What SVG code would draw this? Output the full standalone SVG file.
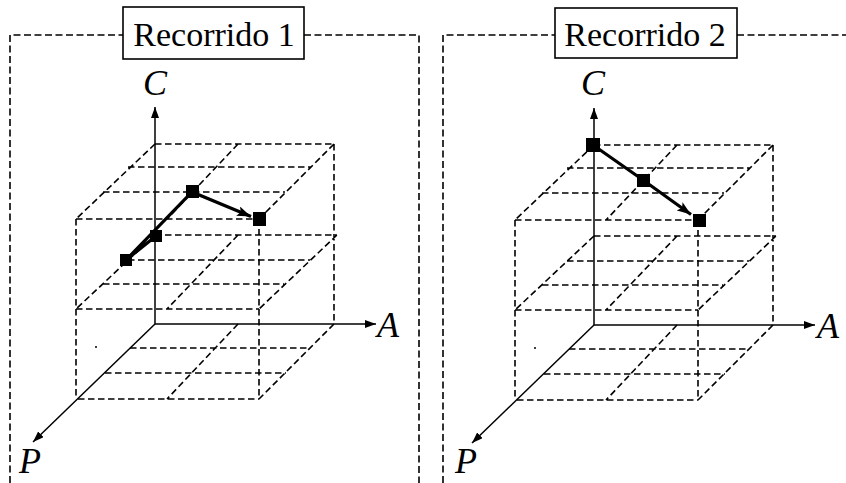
<svg xmlns="http://www.w3.org/2000/svg" xmlns:xlink="http://www.w3.org/1999/xlink" width="846" height="483" viewBox="0 0 846 483">
<style>
.frame{fill:none;stroke:#000;stroke-width:1.6;stroke-dasharray:7 3.5}
.grid{fill:none;stroke:#000;stroke-width:1.6;stroke-dasharray:6.5 3.5}
.axis{fill:none;stroke:#000;stroke-width:1.5}
.route{fill:none;stroke:#000;stroke-width:3.2;stroke-linejoin:miter}
.title{fill:#fff;stroke:#000;stroke-width:1.6}
.ttext{font-family:"Liberation Serif","DejaVu Serif","Times New Roman",serif;font-size:34px;fill:#000}
.lbl{font-family:"Liberation Serif","DejaVu Serif","Times New Roman",serif;font-style:italic;font-size:36px;fill:#000}
.node{fill:#000}
</style>
<defs>
<marker id="ah" markerUnits="userSpaceOnUse" markerWidth="11" markerHeight="8" refX="11" refY="4" orient="auto">
<path d="M0,0 L11,4 L0,8 z" fill="#000"/>
</marker>
<marker id="ahr" markerUnits="userSpaceOnUse" markerWidth="14" markerHeight="10" refX="14" refY="5" orient="auto">
<path d="M0,0 L14,5 L0,10 L3,5 z" fill="#000"/>
</marker>
<path id="grid" class="grid" d="M155,144 H334 M128,167 H311 M103,192 H285 M76,219 H259 M155,144 L76,219 M238,144 L167,219 M334,144 L259,219 M155,235 H337 M128,260 H310 M103,284 H284 M76,309 H259 M155,235 L76,309 M238,235 L167,309 M337,235 L259,309 M130,348 H310 M105,373 H286 M78,399 H259 M238,324 L167,399 M334,324 L259,399 M76,219 V399 M259,219 V399 M334,144 V324"/>
<g id="axes">
<path class="axis" d="M155,324 V107" marker-end="url(#ah)"/>
<path class="axis" d="M155,324 H376" marker-end="url(#ah)"/>
<path class="axis" d="M155,324 L33,442" marker-end="url(#ah)"/>
<circle cx="96" cy="347" r="1" fill="#000"/>
</g>
</defs>

<g id="panel1">
<path class="frame" d="M10,483 V35 H123 M304,35 H419 V483"/>
<g id="title1">
<rect class="title" x="123" y="7" width="181" height="52"/>
<text class="ttext" x="214" y="46" text-anchor="middle">Recorrido 1</text>
</g>
<use xlink:href="#grid"/>
<use xlink:href="#axes"/>
<text class="lbl" x="143" y="95">C</text>
<text class="lbl" x="377" y="337">A</text>
<text class="lbl" x="19" y="473">P</text>
</g>

<g id="panel2">
<path class="frame" d="M443,483 V35 H555 M737,35 H846"/>
<g id="title2">
<rect class="title" x="555" y="8" width="182" height="50"/>
<text class="ttext" x="645" y="46" text-anchor="middle">Recorrido 2</text>
</g>
<use xlink:href="#grid" transform="translate(439,1)"/>
<use xlink:href="#axes" transform="translate(439,1)"/>
<text class="lbl" x="581" y="95">C</text>
<text class="lbl" x="817" y="338">A</text>
<text class="lbl" x="455" y="473">P</text>
</g>

<g id="connectors">
<path class="route" d="M156,236 L126,260 L192,192 L251,216.5" marker-end="url(#ahr)"/>
<path class="route" d="M593,145 L643,180 L691,214.5" marker-end="url(#ahr)"/>
</g>

<g id="r1-s1"><rect class="node" x="120" y="254" width="12" height="12"/></g>
<g id="r1-s2"><rect class="node" x="150" y="230" width="12" height="12"/></g>
<g id="r1-s3"><rect class="node" x="186" y="185" width="13" height="13"/></g>
<g id="r1-s4"><rect class="node" x="253" y="212" width="13" height="14"/></g>
<g id="r2-s1"><rect class="node" x="586" y="138" width="14" height="14"/></g>
<g id="r2-s2"><rect class="node" x="637" y="174" width="13" height="13"/></g>
<g id="r2-s3"><rect class="node" x="693" y="214" width="13" height="13"/></g>
</svg>
